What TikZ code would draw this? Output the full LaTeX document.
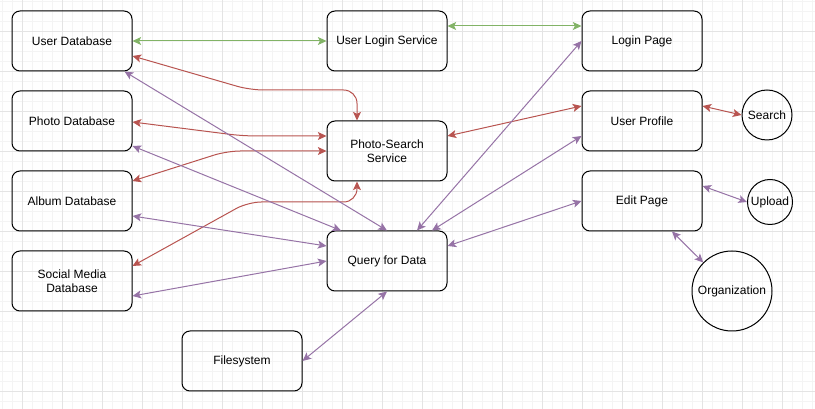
\documentclass[tikz,border=0pt]{standalone}
\usepackage{fontspec}
\setmainfont{Liberation Sans}
\usetikzlibrary{arrows.meta,calc}

\definecolor{linkgreen}{HTML}{82B366}
\definecolor{linkred}{HTML}{B85450}
\definecolor{linkpurple}{HTML}{9673A6}
\definecolor{gridminor}{HTML}{F4F4F4}
\definecolor{gridmajor}{HTML}{E4E4E4}

\tikzset{
  box/.style={draw, line width=0.75pt, rounded corners=6pt, minimum width=90pt,
    minimum height=45pt, align=center, font=\fontsize{9}{10.5}\selectfont},
  orb/.style={draw, circle, line width=0.75pt, inner sep=0pt,
    font=\fontsize{9}{10.5}\selectfont},
  link/.style={line width=0.75pt,
    {Stealth[length=6.5pt,width=6pt,inset=1.5pt]}-{Stealth[length=6.5pt,width=6pt,inset=1.5pt]}},
}

\begin{document}
\begin{tikzpicture}[x=0.75pt,y=-0.75pt]
\useasboundingbox (0,0) rectangle (815,409);

% Background grid.
\foreach \gx in {2,12,...,812} \draw[gridminor, line width=0.75pt] (\gx,0) -- (\gx,409);
\foreach \gy in {2,12,...,402} \draw[gridminor, line width=0.75pt] (0,\gy) -- (815,\gy);
\foreach \gx in {22,62,...,782} \draw[gridmajor, line width=0.75pt] (\gx,0) -- (\gx,409);
\foreach \gy in {32,72,...,392} \draw[gridmajor, line width=0.75pt] (0,\gy) -- (815,\gy);

% Databases.
\node[box] (userdb)   at (72,41)  {User Database};
\node[box] (photodb)  at (72,121) {Photo Database};
\node[box] (albumdb)  at (72,201) {Album Database};
\node[box] (socialdb) at (72,281) {Social Media\\Database};

% Services.
\node[box] (login)  at (387,41)  {User Login Service};
\node[box] (search) at (387,151) {Photo-Search\\Service};
\node[box] (query)  at (387,261) {Query for Data};
\node[box] (files)  at (242,361) {Filesystem};

% Pages.
\node[box] (loginpage) at (642,41)  {Login Page};
\node[box] (profile)   at (642,121) {User Profile};
\node[box] (edit)      at (642,201) {Edit Page};

% Actions.
\node[orb, minimum size=37.5pt] (searchorb) at (767,115) {Search};
\node[orb, minimum size=33.75pt] (uploadorb) at (770,202) {Upload};
\node[orb, minimum size=60pt] (orgorb) at (732,291) {Organization};

% Green links.
\draw[link, linkgreen] (userdb.east) -- (login.west);
\draw[link, linkgreen] ($(login.east)+(0,-15)$) -- ($(loginpage.west)+(0,-15)$);

% Red links.
\draw[link, linkred, rounded corners=10pt] ($(userdb.east)+(0,15)$) -- (250,90) -| ($(search.north)+(-30,0)$);
\draw[link, linkred, rounded corners=10pt] ($(photodb.east)+(0,1)$) -- (243,136) -- ($(search.west)+(0,-15)$);
\draw[link, linkred, rounded corners=10pt] ($(albumdb.east)+(0,-20)$) -- (227,151) -- (search.west);
\draw[link, linkred, rounded corners=10pt] ($(socialdb.east)+(0,-15)$) -- (248,202) -| ($(search.south)+(-30,0)$);
\draw[link, linkred] ($(search.east)+(0,-15)$) -- ($(profile.west)+(0,-15)$);
\draw[link, linkred] ($(profile.east)+(0,-15)$) -- (searchorb.west);

% Purple links.
\draw[link, linkpurple] ($(userdb.south east)+(-8,0)$) -- (query.north);
\draw[link, linkpurple] ($(photodb.east)+(0,25)$) -- ($(query.north)+(-46,0)$);
\draw[link, linkpurple] ($(albumdb.east)+(0,15)$) -- ($(query.west)+(0,-15)$);
\draw[link, linkpurple] ($(socialdb.east)+(0,15)$) -- (query.west);
\draw[link, linkpurple] (files.east) -- (query.south);
\draw[link, linkpurple] (loginpage.west) -- ($(query.north)+(30,0)$);
\draw[link, linkpurple] ($(profile.west)+(0,15)$) -- ($(query.north)+(45,0)$);
\draw[link, linkpurple] (edit.west) -- ($(query.east)+(0,-15)$);
\draw[link, linkpurple] ($(edit.east)+(0,-15)$) -- (uploadorb.west);
\draw[link, linkpurple] ($(edit.south)+(30,0)$) -- (orgorb);
\end{tikzpicture}
\end{document}
